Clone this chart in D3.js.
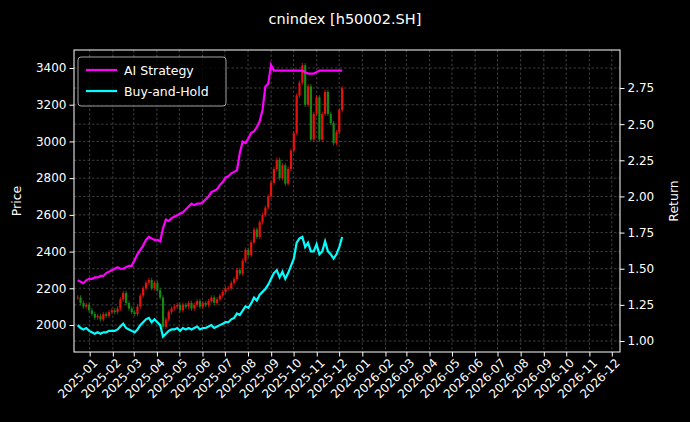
<!DOCTYPE html>
<html><head><meta charset="utf-8">
<script src="https://cdn.jsdelivr.net/npm/d3@7"></script>
<style>body{margin:0;background:#000}svg{display:block}</style>
</head><body><svg id="c" width="690" height="422"></svg>
<script>
const title = "cnindex [h50002.SH]";
const startDate = "2024-12-16", endDate = "2025-12-05";
const closes = [2150,2120,2100,2110,2080,
2060,2040,2050,2030,2060,2050,2070,2080,
2070,2090,2140,2175,2120,2090,2070,2060,
2100,2160,2200,2230,2245,2200,2230,2190,
2150,1990,2030,2070,2090,2100,2110,2080,
2110,2100,2120,2090,2110,2130,2100,2120,
2110,2130,2150,2120,2140,2160,2180,2200,
2200,2230,2250,2300,2280,2350,2410,2380,
2450,2520,2480,2560,2600,2640,2700,2775,
2850,2900,2800,2870,2770,2850,2950,3045,
3250,3320,3415,3200,3300,3010,3150,3240,
3010,3150,3270,3150,3100,2990,3050,3170,
3290];
const aiStrategy = [1.42,1.41,1.40,1.42,1.43,
1.43,1.44,1.44,1.45,1.45,1.47,1.48,1.49,1.50,1.51,
1.50,1.50,1.51,1.52,1.52,1.56,1.60,1.63,1.66,1.70,
1.72,1.71,1.70,1.70,1.69,1.78,1.84,1.83,1.85,1.86,
1.87,1.88,1.89,1.91,1.93,1.95,1.94,1.95,1.95,1.96,
1.98,2.00,2.03,2.04,2.05,2.08,2.10,2.13,2.14,2.16,
2.17,2.18,2.30,2.38,2.37,2.40,2.44,2.45,2.48,2.52,
2.60,2.76,2.78,2.91,2.87,2.87,2.87,2.87,2.87,2.87,
2.87,2.87,2.87,2.87,2.87,2.86,2.85,2.85,2.85,2.86,
2.87,2.87,2.87,2.87,2.87,2.87,2.87,2.87,2.87];
const buyHold = [1.11,1.09,1.08,1.09,1.07,
1.06,1.05,1.06,1.05,1.06,1.06,1.07,1.07,
1.07,1.08,1.10,1.12,1.09,1.08,1.07,1.06,
1.08,1.11,1.13,1.15,1.16,1.13,1.15,1.13,
1.11,1.03,1.05,1.07,1.08,1.08,1.09,1.07,
1.09,1.08,1.09,1.08,1.09,1.10,1.08,1.09,
1.09,1.10,1.11,1.09,1.10,1.11,1.12,1.13,
1.13,1.15,1.16,1.19,1.18,1.21,1.24,1.23,
1.26,1.30,1.28,1.32,1.34,1.36,1.39,1.43,
1.47,1.49,1.44,1.48,1.43,1.47,1.52,1.57,
1.68,1.71,1.72,1.65,1.68,1.62,1.62,1.67,
1.60,1.62,1.69,1.62,1.60,1.57,1.60,1.65,
1.72];
const priceTicks = [2000,2200,2400,2600,2800,3000,3200,3400];
const returnTicks = [1.00,1.25,1.50,1.75,2.00,2.25,2.50,2.75];
const seriesNames = ["AI Strategy","Buy-and-Hold"];
const seriesColors = ["#ff00ff","#00ffff"];

const svg = d3.select("#c");
svg.append("rect").attr("width",690).attr("height",422).attr("fill","#000");
const L=74,R=620,T=50,B=352;
const p = d3.timeParse("%Y-%m-%d");
const t0=p(startDate), t1=p(endDate);
const n=closes.length;
const dates = closes.map((_,i)=>new Date(+t0+(t1-t0)*i/(n-1)));
const x = d3.scaleTime().domain([p("2024-12-11"),p("2026-12-12")]).range([L,R]);
const y = d3.scaleLinear().domain([1853,3498]).range([B,T]);
const y2 = d3.scaleLinear().domain([0.924,3.013]).range([B,T]);
const months = d3.timeMonth.range(p("2025-01-01"),p("2026-12-02"));
const g = svg.append("g");
const gridStyle = s=>s.attr("stroke","#666").attr("stroke-width",0.6).attr("stroke-dasharray","2.5,2");
months.forEach(m=>gridStyle(g.append("line").attr("x1",x(m)).attr("x2",x(m)).attr("y1",T).attr("y2",B)));
priceTicks.forEach(v=>gridStyle(g.append("line").attr("x1",L).attr("x2",R).attr("y1",y(v)).attr("y2",y(v))));
returnTicks.forEach(v=>gridStyle(g.append("line").attr("x1",L).attr("x2",R).attr("y1",y2(v)).attr("y2",y2(v))));

const cg = svg.append("g");
closes.forEach((c,i)=>{
  const o = i? closes[i-1] : c;
  const col = c>=o ? "#e8120c" : "#138a13";
  const xx = x(dates[i]);
  const hi=Math.max(o,c)+12, lo=Math.min(o,c)-12;
  cg.append("line").attr("x1",xx).attr("x2",xx).attr("y1",y(hi)).attr("y2",y(lo)).attr("stroke",col).attr("stroke-width",0.8);
  cg.append("rect").attr("x",xx-1.1).attr("width",2.2).attr("y",y(Math.max(o,c))).attr("height",Math.max(0.8,Math.abs(y(o)-y(c)))).attr("fill",col);
});
const line = d3.line().x((d,i)=>x(dates[i])).y(d=>y2(d));
[aiStrategy,buyHold].forEach((s,k)=>svg.append("path").attr("d",line(s)).attr("fill","none").attr("stroke",seriesColors[k]).attr("stroke-width",2.2));

svg.append("rect").attr("x",L).attr("y",T).attr("width",R-L).attr("height",B-T).attr("fill","none").attr("stroke","#fff").attr("stroke-width",1);

const font="DejaVu Sans";
const ax = svg.append("g").attr("transform",`translate(0,${B})`).call(d3.axisBottom(x).tickValues(months).tickFormat(d3.timeFormat("%Y-%m")).tickSize(4.5));
ax.select(".domain").remove();
ax.selectAll("line").attr("stroke","#fff");
ax.selectAll("text").attr("fill","#fff").style("font-family",font).style("font-size","12px")
  .attr("text-anchor","end").attr("transform","rotate(-45)").attr("dx","-0.2em").attr("dy","0.55em");
const ay = svg.append("g").attr("transform",`translate(${L},0)`).call(d3.axisLeft(y).tickValues(priceTicks).tickFormat(d3.format("d")).tickSize(4.5));
ay.select(".domain").remove();
ay.selectAll("line").attr("stroke","#fff");
ay.selectAll("text").attr("fill","#fff").style("font-family",font).style("font-size","12px");
const ay2 = svg.append("g").attr("transform",`translate(${R},0)`).call(d3.axisRight(y2).tickValues(returnTicks).tickFormat(d3.format(".2f")).tickSize(4.5));
ay2.select(".domain").remove();
ay2.selectAll("line").attr("stroke","#fff");
ay2.selectAll("text").attr("fill","#fff").style("font-family",font).style("font-size","12px");

svg.append("text").attr("x",345).attr("y",24).attr("text-anchor","middle").attr("fill","#fff").style("font-family",font).style("font-size","14.5px").text(title);
svg.append("text").attr("transform","translate(21,201) rotate(-90)").attr("text-anchor","middle").attr("fill","#fff").style("font-family",font).style("font-size","12.5px").text("Price");
svg.append("text").attr("transform","translate(678,201) rotate(-90)").attr("text-anchor","middle").attr("fill","#fff").style("font-family",font).style("font-size","12.5px").text("Return");

const lg = svg.append("g");
lg.append("rect").attr("x",78).attr("y",57).attr("width",148).attr("height",49).attr("rx",3).attr("fill","#000").attr("fill-opacity",0.8).attr("stroke","#ccc").attr("stroke-width",0.8);
seriesNames.forEach((nm,k)=>{
  const yy=70+k*21;
  lg.append("line").attr("x1",86).attr("x2",117).attr("y1",yy).attr("y2",yy).attr("stroke",seriesColors[k]).attr("stroke-width",2.2);
  lg.append("text").attr("x",124).attr("y",yy+4.5).attr("fill","#fff").style("font-family",font).style("font-size","12.5px").text(nm);
});
</script></body></html>
